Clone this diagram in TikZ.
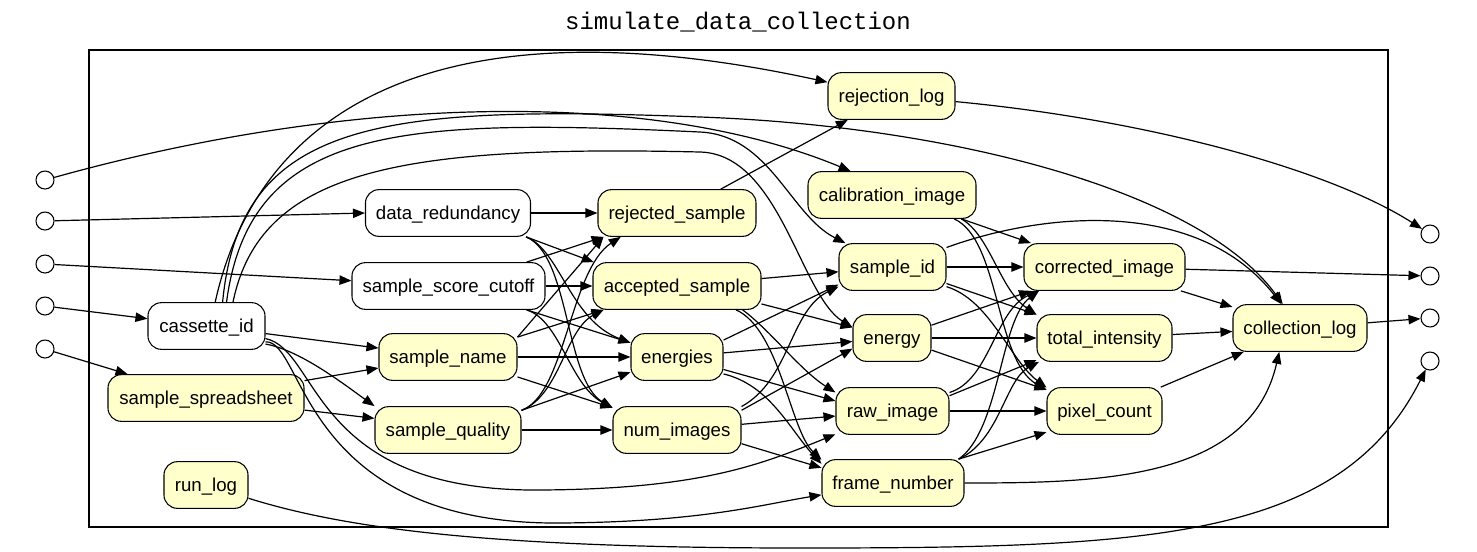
\documentclass[tikz,border=0pt]{standalone}
\usepackage{fontspec}
\usetikzlibrary{arrows.meta}
\newfontfamily\nodefam{Liberation Sans}
\newfontfamily\titlefam{Liberation Mono}
\definecolor{nodeyellow}{HTML}{FFFFCC}
\tikzset{
  basebox/.style={draw, line width=0.8pt, rounded corners=10pt, minimum height=35pt, inner sep=0pt,
    text height=13pt, text depth=3pt,
    font=\nodefam\fontsize{14}{17}\selectfont},
  wb/.style={basebox, fill=white, minimum width=#1*0.75pt},
  yb/.style={basebox, fill=nodeyellow, minimum width=#1*0.75pt},
  port/.style={circle, draw, line width=0.8pt, minimum size=13.5pt, inner sep=0pt, fill=white},
  edge/.style={line width=0.9pt, -{Triangle[length=9pt,width=7pt]}},
}
\begin{document}
\begin{tikzpicture}[x=0.75pt,y=-0.75pt]
\useasboundingbox (0,0) rectangle (1477,551);
\fill[white] (0,0) rectangle (1477,551);
% title and frame
\node[font=\titlefam\fontsize{18}{20}\selectfont] (title) at (738,22) {simulate\_data\_collection};
\draw[line width=2.2pt] (89,50) rectangle (1388,527);
% ports
\node[port] (i1) at (45,180) {};
\node[port] (i2) at (45,221) {};
\node[port] (i3) at (45,264) {};
\node[port] (i4) at (45,306) {};
\node[port] (i5) at (45,349) {};
\node[port] (o1) at (1430,234) {};
\node[port] (o2) at (1430,276) {};
\node[port] (o3) at (1430,318) {};
\node[port] (o4) at (1430,361) {};
% nodes
\node[wb=117] (ci) at (206.5,326) {cassette\_id};
\node[yb=196] (ss) at (206,398) {sample\_spreadsheet};
\node[yb=84] (rl) at (206,485) {run\_log};
\node[wb=165] (dr) at (448,213) {data\_redundancy};
\node[wb=193] (ssc) at (448.5,286) {sample\_score\_cutoff};
\node[yb=138] (sn) at (448,357) {sample\_name};
\node[yb=146] (sq) at (448,430) {sample\_quality};
\node[yb=158] (rs) at (677,213) {rejected\_sample};
\node[yb=168] (as) at (677,286) {accepted\_sample};
\node[yb=92] (en) at (677,357) {energies};
\node[yb=128] (ni) at (677,430) {num\_images};
\node[yb=127] (rjl) at (891.5,96) {rejection\_log};
\node[yb=168] (cal) at (892,195) {calibration\_image};
\node[yb=107] (sid) at (892.5,267) {sample\_id};
\node[yb=78] (eng) at (892,338) {energy};
\node[yb=113] (raw) at (892.5,411) {raw\_image};
\node[yb=142] (fn) at (893,483) {frame\_number};
\node[yb=161] (cor) at (1104.5,267) {corrected\_image};
\node[yb=135] (ti) at (1104.5,338) {total\_intensity};
\node[yb=115] (pc) at (1104.5,411) {pixel\_count};
\node[yb=134] (cl) at (1300,328) {collection\_log};
% inputs
\draw[edge] (i1) .. controls (350,95) and (650,88) .. (cal.150);
\draw[edge] (i2) -- (dr.west);
\draw[edge] (i3) -- (ssc);
\draw[edge] (i4) -- (ci);
\draw[edge] (i5) -- (ss);
% cassette_id
\draw[edge] (ci) -- (sn);
\draw[edge] (ci.-17) .. controls (300,350) and (345,385) .. (sq.162);
\draw[edge] (ci.70) .. controls (260,100) and (450,0) .. (rjl);
\draw[edge] (ci.56) .. controls (240,120) and (380,104.7) .. (700,117) .. controls (950,126) and (1200,190) .. (cl);
\draw[edge] (ci.50) .. controls (250,125) and (400,118) .. (700,132) .. controls (770,135.3) and (790,215) .. (sid);
\draw[edge] (ci.42) .. controls (260,170) and (400,145) .. (700,152) .. controls (780,154) and (800,295) .. (eng.165);
\draw[edge] (ci.-12) .. controls (320,350) and (310,492) .. (540,490) .. controls (700,489) and (760,465) .. (raw);
\draw[edge] (ci.-15) .. controls (305,340) and (300,525) .. (560,523) .. controls (700,522) and (760,505) .. (fn);
% spreadsheet
\draw[edge] (ss.10) -- (sn.189);
\draw[edge] (ss.-7) -- (sq.171);
% run_log
\draw[edge] (rl) .. controls (350,530) and (500,548) .. (800,548) .. controls (1150,548) and (1340,540) .. (o4);
% calculate strategy
\draw[edge] (dr.east) -- (rs.west);
\draw[edge] (dr.-17) -- (as.164);
\draw[edge] (dr.-17) .. controls (560,250) and (570,320) .. (en.163);
\draw[edge] (dr.-17) .. controls (570,255) and (565,380) .. (ni.161);
\draw[edge] (ssc.17) -- (rs.198);
\draw[edge] (ssc.east) -- (as.west);
\draw[edge] (ssc.-17) -- (en.163);
\draw[edge] (ssc.-17) .. controls (560,320) and (570,385) .. (ni.161);
\draw[edge] (sn.16) -- (rs.198);
\draw[edge] (sn.16) -- (as.198);
\draw[edge] (sn.east) -- (en.west);
\draw[edge] (sn.-16) -- (ni.161);
\draw[edge] (sq.15) .. controls (565,395) and (570,270) .. (rs.203);
\draw[edge] (sq.15) .. controls (560,395) and (565,330) .. (as.198);
\draw[edge] (sq.15) -- (en.198);
\draw[edge] (sq.east) -- (ni.west);
% rejected
\draw[edge] (rs) -- (rjl);
% collect next image
\draw[edge] (as) -- (sid);
\draw[edge] (as.-12) -- (eng.165);
\draw[edge] (as.-20) .. controls (770,330) and (800,370) .. (raw.162);
\draw[edge] (as.-22) .. controls (780,330) and (790,430) .. (fn.162);
\draw[edge] (en.20) -- (sid.198);
\draw[edge] (en) -- (eng);
\draw[edge] (en.-15) -- (raw.170);
\draw[edge] (en.-20) .. controls (770,385) and (790,430) .. (fn.165);
\draw[edge] (ni.20) .. controls (790,380) and (790,310) .. (sid.200);
\draw[edge] (ni.17) -- (eng.195);
\draw[edge] (ni) -- (raw);
\draw[edge] (ni.-12) -- (fn.168);
% transform images
\draw[edge] (cal.-19) -- (cor.162);
\draw[edge] (cal.-19) .. controls (990,235) and (1000,290) .. (ti.161);
\draw[edge] (cal.-21) .. controls (1000,240) and (995,360) .. (pc.160);
\draw[edge] (sid) -- (cor);
\draw[edge] (sid.-17) -- (ti.161);
\draw[edge] (sid.-20) .. controls (990,300) and (1010,360) .. (pc.158);
\draw[edge] (eng.18) -- (cor.198);
\draw[edge] (eng) -- (ti);
\draw[edge] (eng.-17) -- (pc.160);
\draw[edge] (raw.18) .. controls (990,380) and (995,310) .. (cor.200);
\draw[edge] (raw.15) -- (ti.198);
\draw[edge] (raw) -- (pc);
\draw[edge] (fn.20) .. controls (1000,430) and (1000,320) .. (cor.200);
\draw[edge] (fn.20) .. controls (1000,440) and (1005,380) .. (ti.200);
\draw[edge] (fn.20) -- (pc.200);
% logs and outputs
\draw[edge] (sid) .. controls (1050,210) and (1200,200) .. (cl);
\draw[edge] (cor) -- (cl);
\draw[edge] (ti) -- (cl);
\draw[edge] (pc) -- (cl);
\draw[edge] (fn.east) .. controls (1100,483) and (1250,480) .. (cl.-131);
\draw[edge] (rjl.-5) .. controls (1150,120) and (1330,170) .. (o1);
\draw[edge] (cor) -- (o2);
\draw[edge] (cl) -- (o3);
\end{tikzpicture}
\end{document}
